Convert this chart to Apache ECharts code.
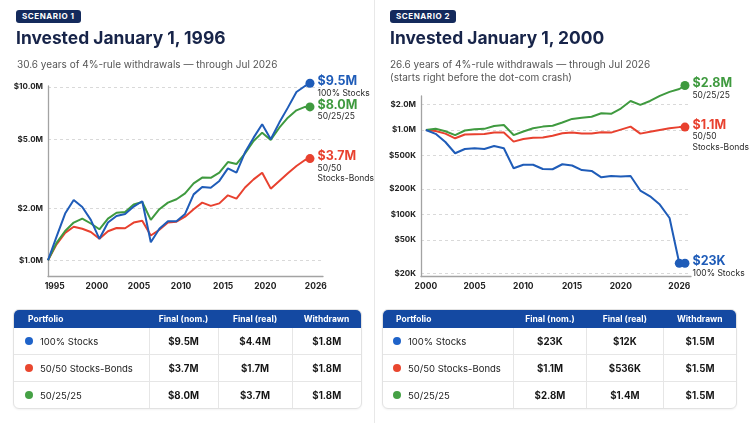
<!DOCTYPE html>
<html><head><meta charset="utf-8">
<script src="https://cdn.jsdelivr.net/npm/echarts@6/dist/echarts.min.js"></script>
<style>
html,body{margin:0;padding:0;width:752px;height:423px;background:#fff;overflow:hidden;font-family:Inter,"Noto Sans",sans-serif;}
#chart{position:absolute;left:0;top:0;width:752px;height:423px;}
.badge{position:absolute;top:10px;height:13.3px;padding:0 6px;background:#142a5c;color:#fff;font-weight:700;font-size:8px;line-height:13.3px;border-radius:3px;letter-spacing:0.55px;}
.title{position:absolute;top:27.5px;font-size:17.4px;font-weight:700;color:#172449;line-height:20px;white-space:nowrap;}
.sub{position:absolute;top:58px;font-size:10px;color:#555;line-height:13.3px;white-space:nowrap}
.divider{position:absolute;left:374px;top:0;width:1px;height:423px;background:#e8e8e8}
.tblwrap{position:absolute;top:309px;border:1px solid #e2e2e2;border-radius:6px;overflow:hidden;background:#fff;box-shadow:0 1px 2px rgba(0,0,0,.05)}
.tblwrap table{border-collapse:collapse;width:100%;table-layout:fixed}
th{background:#1449a2;color:#fff;font-size:8.5px;font-weight:700;height:18px;padding:0;text-align:center}
th.first{text-align:left;padding-left:14px}
td{height:26px;padding:0;text-align:center;font-size:9.7px;font-weight:700;color:#141414;border-left:1px solid #e6e6e6;border-top:1px solid #e6e6e6}
tr.r0 td{border-top:none}
td.first{text-align:left;font-weight:400;border-left:none;padding-left:11px;color:#222;font-size:9.5px}
.dot{display:inline-block;width:8px;height:8px;border-radius:50%;vertical-align:middle;margin-right:7px;position:relative;top:-1px}
</style></head>
<body>
<div id="chart"></div>
<div class="divider"></div>
<div class="badge" style="left:16px">SCENARIO 1</div>
<div class="title" style="left:16px">Invested January 1, 1996</div>
<div class="sub" style="left:17px">30.6 years of 4%-rule withdrawals — through Jul 2026</div>
<div class="badge" style="left:390px">SCENARIO 2</div>
<div class="title" style="left:390px">Invested January 1, 2000</div>
<div class="sub" style="left:390px">26.6 years of 4%-rule withdrawals — through Jul 2026<br>(starts right before the dot-com crash)</div>
<div id="t1" class="tblwrap" style="left:13px;width:347px"></div>
<div id="t2" class="tblwrap" style="left:382px;width:353px"></div>
<script>
// ---------- data ----------
const portfolioNames = ['100% Stocks', '50/50 Stocks-Bonds', '50/25/25'];
const endSubLabels = ['100% Stocks', '50/50\nStocks-Bonds', '50/25/25'];
const tableHeaders = ['Portfolio', 'Final (nom.)', 'Final (real)', 'Withdrawn'];

// Scenario 1 (values in $M)
const years1 = [1996,1997,1998,1999,2000,2001,2002,2003,2004,2005,2006,2007,2008,2009,2010,2011,2012,2013,2014,2015,2016,2017,2018,2019,2020,2021,2022,2023,2024,2025,2026,2026.58];
const stocks1 = [1.0,1.37,1.86,2.23,2.03,1.71,1.33,1.65,1.80,1.85,2.04,2.19,1.27,1.52,1.68,1.68,1.85,2.40,2.65,2.62,2.87,3.39,3.20,4.20,5.10,6.09,4.99,6.23,7.60,9.36,10.13,10.5];
const bonds1 = [1.0,1.236,1.44,1.56,1.52,1.456,1.33,1.47,1.535,1.53,1.65,1.69,1.39,1.50,1.65,1.67,1.785,1.97,2.15,2.06,2.13,2.37,2.27,2.63,2.93,3.20,2.59,2.87,3.18,3.50,3.79,3.86];
const mix1 = [1.0,1.26,1.476,1.65,1.74,1.63,1.51,1.74,1.88,1.90,2.10,2.17,1.71,1.97,2.15,2.25,2.43,2.78,3.0,2.99,3.20,3.69,3.59,4.14,4.88,5.45,4.95,5.82,6.65,7.33,7.67,7.67];
const finalNom1 = ['$9.5M', '$3.7M', '$8.0M'];
const finalReal1 = ['$4.4M', '$1.7M', '$3.7M'];
const withdrawn1 = ['$1.8M', '$1.8M', '$1.8M'];
const yTicks1 = [1, 2, 5, 10];
const yTickLabels1 = ['$1.0M', '$2.0M', '$5.0M', '$10.0M'];
const xTicks1 = [1995, 2000, 2005, 2010, 2015, 2020, 2026];

// Scenario 2 (values in $M)
const years2 = [2000,2001,2002,2003,2004,2005,2006,2007,2008,2009,2010,2011,2012,2013,2014,2015,2016,2017,2018,2019,2020,2021,2022,2023,2024,2025,2026,2026.58];
const stocks2 = [1.0,0.90,0.72,0.53,0.595,0.607,0.595,0.645,0.607,0.352,0.388,0.388,0.345,0.343,0.393,0.38,0.335,0.328,0.275,0.285,0.282,0.285,0.192,0.164,0.131,0.091,0.0265,0.0265];
const bonds2 = [1.0,0.973,0.905,0.797,0.884,0.889,0.893,0.935,0.935,0.728,0.78,0.81,0.815,0.853,0.913,0.93,0.905,0.91,0.94,0.93,1.01,1.095,0.905,0.95,1.0,1.046,1.08,1.08];
const mix2 = [1.0,1.035,0.965,0.87,0.985,1.018,1.03,1.115,1.146,0.87,0.96,1.046,1.095,1.12,1.225,1.35,1.39,1.43,1.574,1.55,1.79,2.2,1.98,2.2,2.53,2.82,3.05,3.35];
const finalNom2 = ['$23K', '$1.1M', '$2.8M'];
const finalReal2 = ['$12K', '$536K', '$1.4M'];
const withdrawn2 = ['$1.5M', '$1.5M', '$1.5M'];
const yTicks2 = [0.02, 0.05, 0.1, 0.2, 0.5, 1, 2];
const yTickLabels2 = ['$20K', '$50K', '$100K', '$200K', '$500K', '$1.0M', '$2.0M'];
const xTicks2 = [2000, 2005, 2010, 2015, 2020, 2026];

// ---------- styles ----------
const FONT = 'Inter';
const colors = ['#1f5cb8', '#e8412f', '#3f9a3f'];
const dotColors = ['#1f63c9', '#e9472f', '#45a145'];
const axisLineStyle = {color: '#a3a3a3', width: 1.3};
const splitStyle = {type: [3, 3], color: '#d9d9d9', width: 1};

function tickFmt(ticks, labels) {
  return function (v) {
    for (let i = 0; i < ticks.length; i++) {
      if (Math.abs(ticks[i] - v) / ticks[i] < 1e-6) return labels[i];
    }
    return '';
  };
}

function makeSeries(xs, ys, idx, gridIdx, xAxisIndex, labelText, dotsAtEnd) {
  const color = colors[idx];
  const sub = endSubLabels[idx].split('\n').map(s => '{s|' + s + '}').join('\n');
  const data = xs.map((x, i) => {
    const item = {value: [x, ys[i]]};
    const last = i === xs.length - 1;
    if (last || (dotsAtEnd && i === xs.length - 2)) {
      item.symbol = 'circle';
      item.symbolSize = 9;
    }
    if (last) {
      item.label = {
        show: true,
        position: [12, -4],
        formatter: '{v|' + labelText + '}\n' + sub,
        rich: {
          v: {fontFamily: FONT, fontSize: 12.5, fontWeight: 700, color: color, lineHeight: 13},
          s: {fontFamily: FONT, fontSize: 8.5, color: '#2a2a2a', lineHeight: 10.5}
        }
      };
    }
    return item;
  });
  return {
    type: 'line', xAxisIndex: xAxisIndex, yAxisIndex: gridIdx, data: data,
    symbol: 'none', showSymbol: true, clip: false, silent: true,
    lineStyle: {width: 2, color: color}, itemStyle: {color: color},
    label: {show: false}, emphasis: {disabled: true}
  };
}

const xLabelStyle = {fontFamily: FONT, fontSize: 8.5, fontWeight: 700, color: '#222', margin: 5};
const yLabelStyle = {fontFamily: FONT, fontSize: 8, fontWeight: 700, color: '#222', margin: 5};

const option = {
  animation: false,
  grid: [
    {left: 48, top: 86, width: 275, height: 190.5, outerBoundsMode: 'none', containLabel: false},
    {left: 421, top: 96, width: 270, height: 180.5, outerBoundsMode: 'none', containLabel: false}
  ],
  xAxis: [
    {type: 'value', gridIndex: 0, min: 1996, max: 2028.1,
      axisLine: {show: true, lineStyle: axisLineStyle}, axisTick: {show: false}, axisLabel: {show: false}, splitLine: {show: false}},
    {type: 'value', gridIndex: 0, min: 1994.2, max: 2026.85, position: 'bottom',
      axisLine: {show: false}, axisTick: {show: false, customValues: xTicks1},
      axisLabel: Object.assign({customValues: xTicks1, formatter: v => String(v)}, xLabelStyle), splitLine: {show: false}},
    {type: 'value', gridIndex: 1, min: 1999.5, max: 2027.2,
      axisLine: {show: true, lineStyle: axisLineStyle}, axisTick: {show: false, customValues: xTicks2},
      axisLabel: Object.assign({customValues: xTicks2, formatter: v => String(v)}, xLabelStyle), splitLine: {show: false}}
  ],
  yAxis: [
    {type: 'log', logBase: 10, gridIndex: 0, min: 0.806, max: 10.13,
      axisLine: {show: true, lineStyle: axisLineStyle}, axisTick: {show: false, customValues: yTicks1},
      axisLabel: Object.assign({customValues: yTicks1, formatter: tickFmt(yTicks1, yTickLabels1)}, yLabelStyle),
      splitLine: {show: true, lineStyle: splitStyle}},
    {type: 'log', logBase: 10, gridIndex: 1, min: 0.0185, max: 2.52,
      axisLine: {show: true, lineStyle: axisLineStyle}, axisTick: {show: false, customValues: yTicks2},
      axisLabel: Object.assign({customValues: yTicks2, formatter: tickFmt(yTicks2, yTickLabels2)}, yLabelStyle),
      splitLine: {show: true, lineStyle: splitStyle}}
  ],
  series: [
    makeSeries(years1, bonds1, 1, 0, 0, finalNom1[1], false),
    makeSeries(years1, mix1, 2, 0, 0, finalNom1[2], false),
    makeSeries(years1, stocks1, 0, 0, 0, finalNom1[0], false),
    makeSeries(years2, bonds2, 1, 1, 2, finalNom2[1], false),
    makeSeries(years2, mix2, 2, 1, 2, finalNom2[2], false),
    makeSeries(years2, stocks2, 0, 1, 2, finalNom2[0], true)
  ]
};

const chart = echarts.init(document.getElementById('chart'), null, {renderer: 'canvas'});
chart.setOption(option);

function buildTable(el, nom, real, wd, widths, padLeft) {
  let html = '<table><colgroup>' + widths.map(w => '<col style="width:' + w + 'px">').join('') + '</colgroup>';
  html += '<tr>' + tableHeaders.map((h, i) => '<th' + (i === 0 ? ' class="first" style="padding-left:' + padLeft + 'px"' : '') + '>' + h + '</th>').join('') + '</tr>';
  portfolioNames.forEach((n, i) => {
    html += '<tr class="r' + i + '"><td class="first" style="padding-left:' + (padLeft - 3) + 'px"><span class="dot" style="background:' + dotColors[i] + '"></span>' + n + '</td>' +
      '<td>' + nom[i] + '</td><td>' + real[i] + '</td><td>' + wd[i] + '</td></tr>';
  });
  html += '</table>';
  el.innerHTML = html;
}
buildTable(document.getElementById('t1'), finalNom1, finalReal1, withdrawn1, [135, 69, 74, 69], 14);
buildTable(document.getElementById('t2'), finalNom2, finalReal2, withdrawn2, [130, 72, 77, 72], 13);
</script>
</body></html>
